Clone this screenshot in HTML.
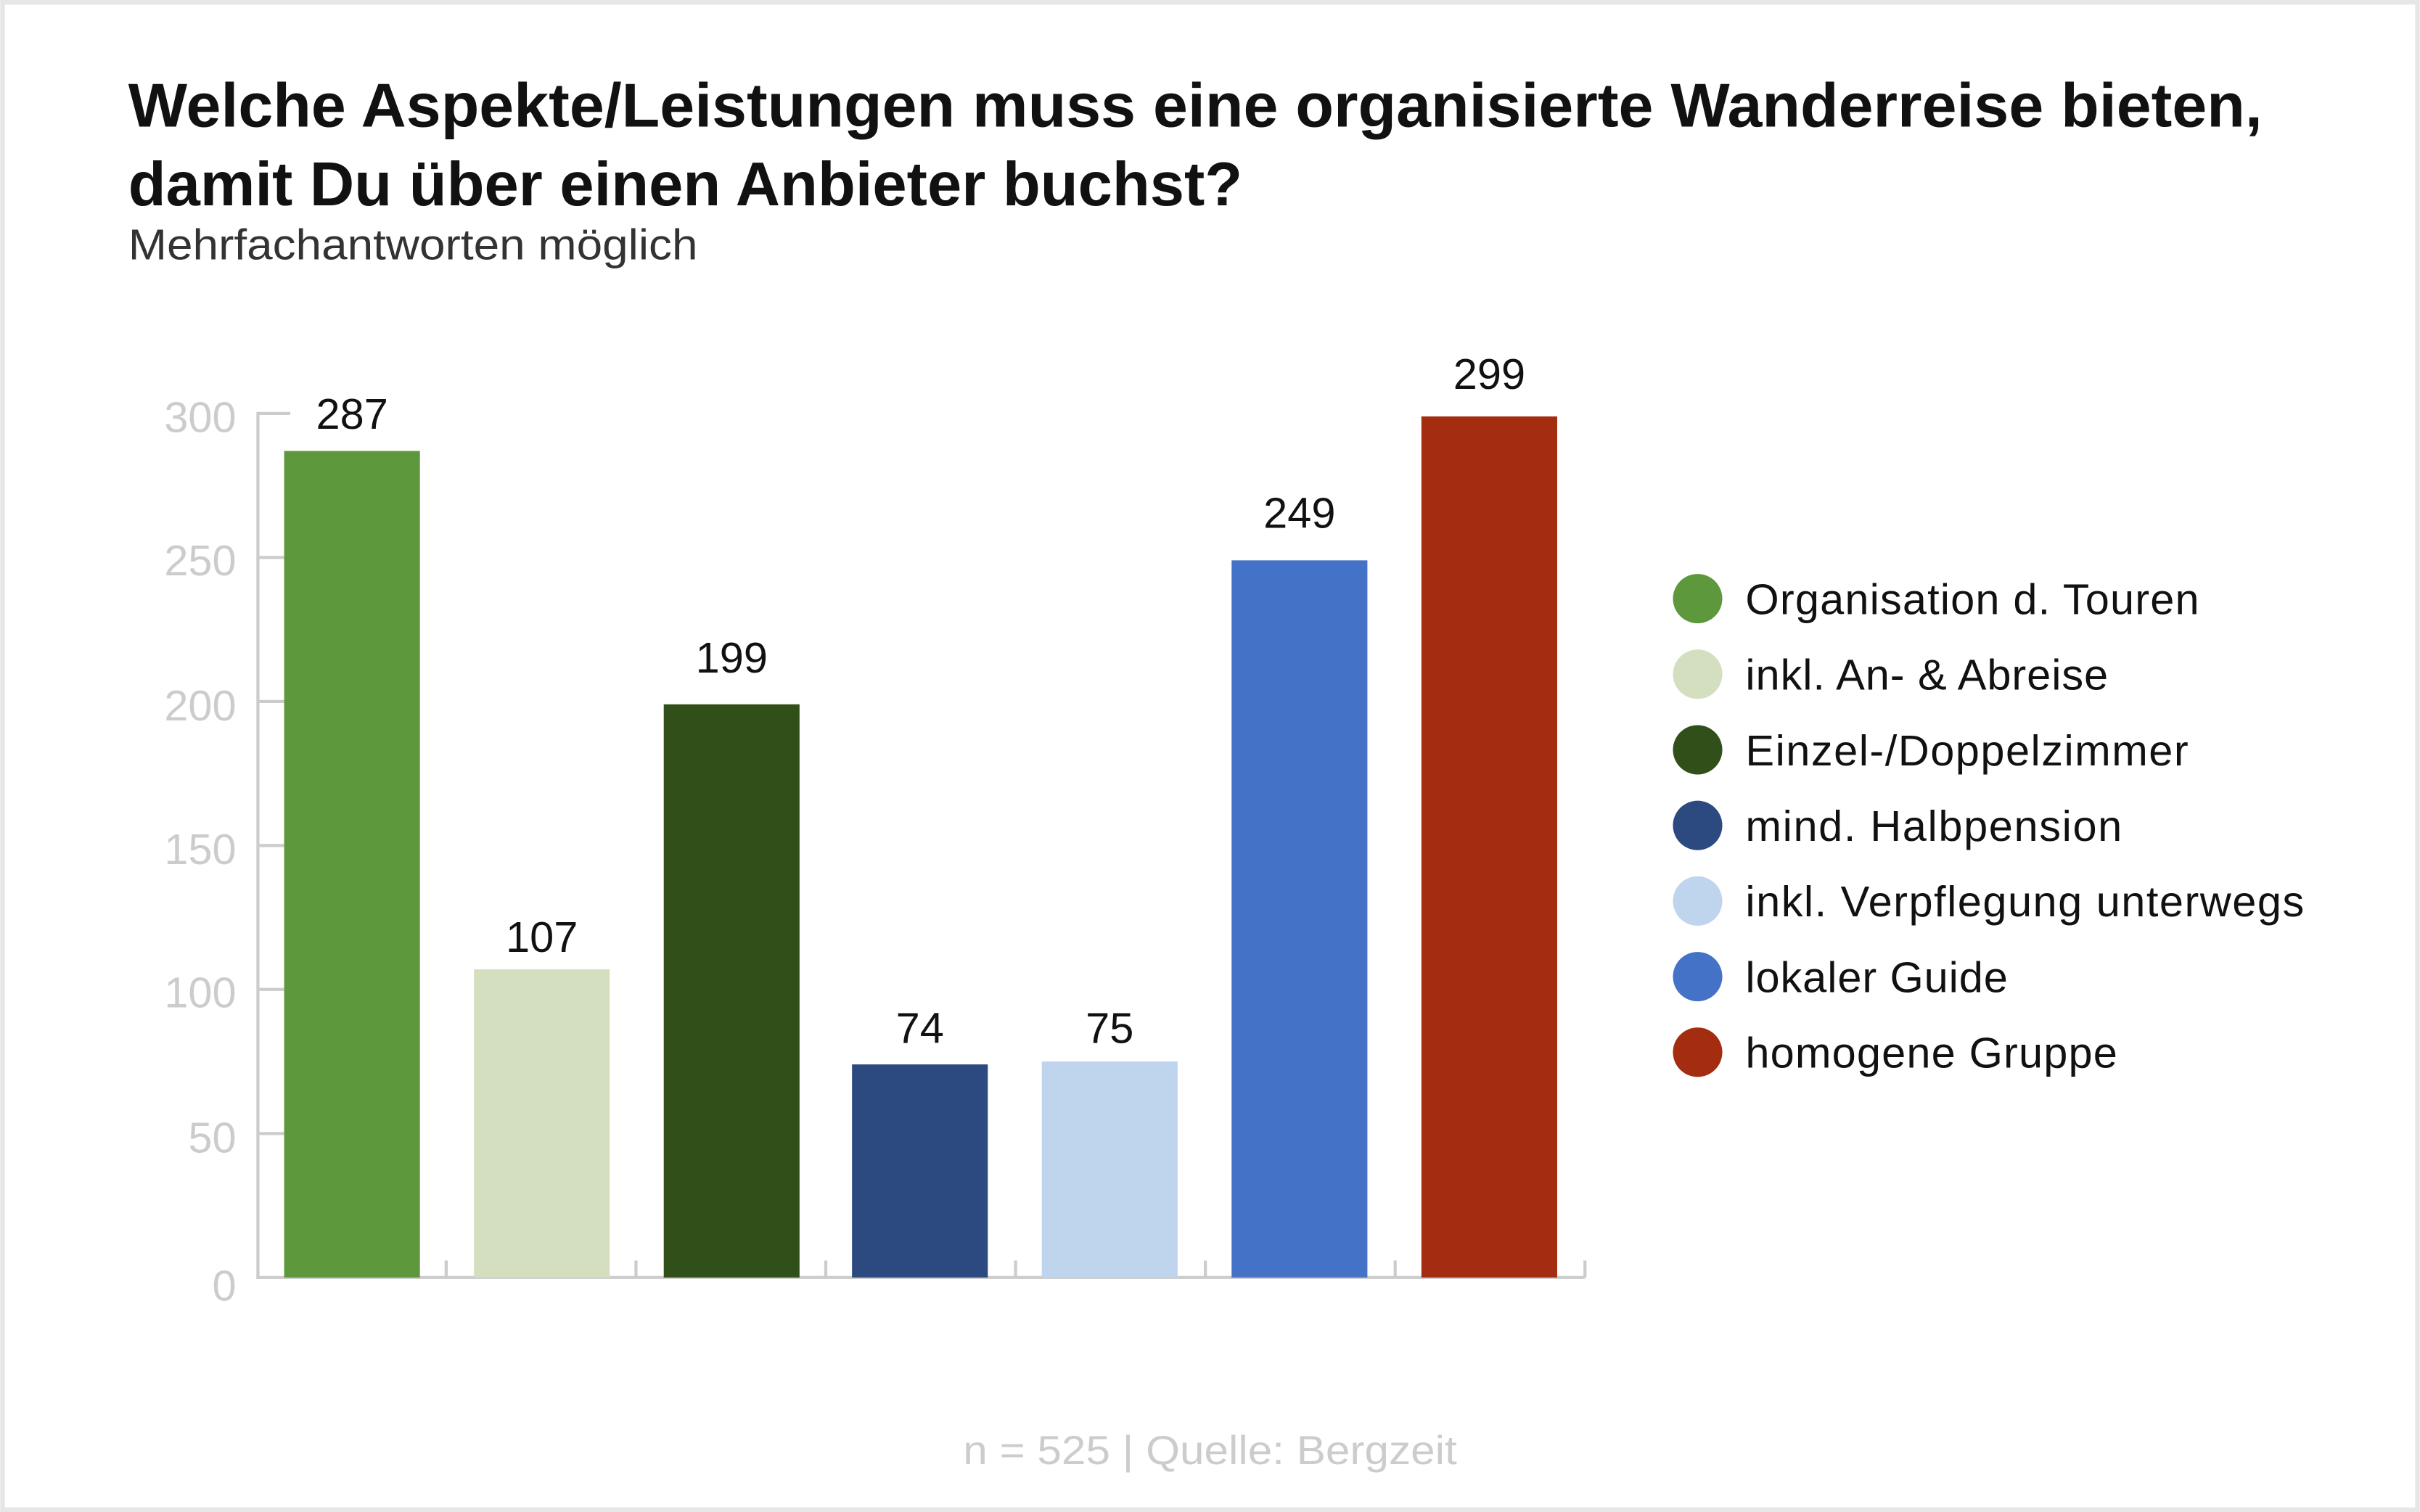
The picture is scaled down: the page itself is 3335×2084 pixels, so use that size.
<!DOCTYPE html>
<html><head><meta charset="utf-8"><style>
html,body{margin:0;padding:0;background:#fff}
svg{display:block}
text{font-family:"Liberation Sans",sans-serif}
</style></head><body>
<svg width="3335" height="2084" viewBox="0 0 1568 980" xmlns="http://www.w3.org/2000/svg">
<rect x="0" y="0" width="1568" height="980" fill="#fff"/>
<rect x="1.5" y="1.5" width="1565" height="977" fill="none" stroke="#e6e6e6" stroke-width="3"/>
<text x="83" y="82" font-size="40" font-weight="bold" fill="#111" textLength="1383" lengthAdjust="spacingAndGlyphs">Welche Aspekte/Leistungen muss eine organisierte Wanderreise bieten,</text>
<text x="83" y="133" font-size="40" font-weight="bold" fill="#111" textLength="722" lengthAdjust="spacingAndGlyphs">damit Du über einen Anbieter buchst?</text>
<text x="83" y="168" font-size="28" fill="#333" textLength="369" lengthAdjust="spacingAndGlyphs">Mehrfachantworten möglich</text>
<g stroke="#cccccc" stroke-width="2" fill="none">
<line x1="167" y1="267" x2="167" y2="829"/>
<line x1="166" y1="828" x2="1027" y2="828"/>
<line x1="167" y1="268" x2="188" y2="268"/>
<line x1="167" y1="361.3" x2="184" y2="361.3"/>
<line x1="167" y1="454.7" x2="184" y2="454.7"/>
<line x1="167" y1="548" x2="184" y2="548"/>
<line x1="167" y1="641.3" x2="184" y2="641.3"/>
<line x1="167" y1="734.7" x2="184" y2="734.7"/>
<line x1="289" y1="828" x2="289" y2="817"/>
<line x1="412" y1="828" x2="412" y2="817"/>
<line x1="535" y1="828" x2="535" y2="817"/>
<line x1="658" y1="828" x2="658" y2="817"/>
<line x1="781" y1="828" x2="781" y2="817"/>
<line x1="904" y1="828" x2="904" y2="817"/>
<line x1="1027" y1="828" x2="1027" y2="817"/>
</g>
<g font-size="28" fill="#cccccc" text-anchor="end">
<text x="153" y="280">300</text>
<text x="153" y="373">250</text>
<text x="153" y="467">200</text>
<text x="153" y="560">150</text>
<text x="153" y="653">100</text>
<text x="153" y="747">50</text>
<text x="153" y="843">0</text>
</g>
<rect x="184" y="292.3" width="88" height="535.7" fill="#5e983c"/>
<rect x="307" y="628.3" width="88" height="199.7" fill="#d4dfc0"/>
<rect x="430" y="456.5" width="88" height="371.5" fill="#314f19"/>
<rect x="552" y="689.9" width="88" height="138.1" fill="#2c4a80"/>
<rect x="675" y="688" width="88" height="140" fill="#bfd4ed"/>
<rect x="798" y="363.2" width="88" height="464.8" fill="#4472c6"/>
<rect x="921" y="269.9" width="88" height="558.1" fill="#a42c10"/>
<g font-size="28" fill="#111" text-anchor="middle">
<text x="228" y="278">287</text>
<text x="351" y="617">107</text>
<text x="474" y="436">199</text>
<text x="596" y="676">74</text>
<text x="719" y="676">75</text>
<text x="842" y="342">249</text>
<text x="965" y="252">299</text>
</g>
<g font-size="28" fill="#111" lengthAdjust="spacingAndGlyphs">
<circle cx="1100" cy="388" r="16" fill="#5e983c"/><text x="1131" y="398" textLength="294">Organisation d. Touren</text>
<circle cx="1100" cy="437" r="16" fill="#d4dfc0"/><text x="1131" y="447" textLength="235">inkl. An- &amp; Abreise</text>
<circle cx="1100" cy="486" r="16" fill="#314f19"/><text x="1131" y="496" textLength="287">Einzel-/Doppelzimmer</text>
<circle cx="1100" cy="535" r="16" fill="#2c4a80"/><text x="1131" y="545" textLength="244">mind. Halbpension</text>
<circle cx="1100" cy="584" r="16" fill="#bfd4ed"/><text x="1131" y="594" textLength="362">inkl. Verpflegung unterwegs</text>
<circle cx="1100" cy="633" r="16" fill="#4472c6"/><text x="1131" y="643" textLength="170">lokaler Guide</text>
<circle cx="1100" cy="682" r="16" fill="#a42c10"/><text x="1131" y="692" textLength="241">homogene Gruppe</text>
</g>
<text x="784" y="949" font-size="26" fill="#cccccc" text-anchor="middle" textLength="320" lengthAdjust="spacingAndGlyphs">n = 525 | Quelle: Bergzeit</text>
</svg>
</body></html>
